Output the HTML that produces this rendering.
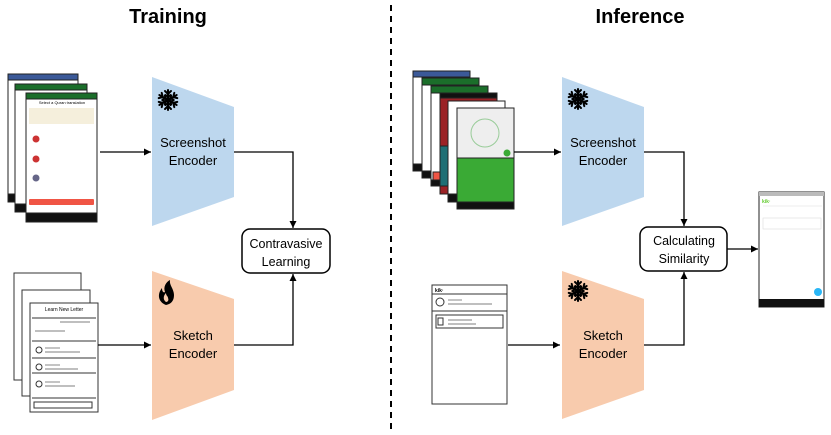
<!DOCTYPE html>
<html><head><meta charset="utf-8"><style>
html,body{margin:0;padding:0;background:#fff;}
svg{display:block;font-family:"Liberation Sans",sans-serif;}
</style></head><body>
<svg width="831" height="435" viewBox="0 0 831 435" xmlns="http://www.w3.org/2000/svg">
<defs>
<marker id="ar" markerWidth="8" markerHeight="8" refX="7" refY="4" orient="auto" markerUnits="userSpaceOnUse"><path d="M0,0.5 L7,4 L0,7.5 z" fill="#000"/></marker>
<g id="flake" stroke="#000" stroke-width="2" stroke-linecap="round" fill="none">
<g id="arm"><line x1="0" y1="0" x2="0" y2="-10"/><polyline points="-3,-9 0,-6 3,-9"/><polyline points="-2.5,-5 0,-3 2.5,-5"/></g>
<use href="#arm" transform="rotate(60)"/><use href="#arm" transform="rotate(120)"/><use href="#arm" transform="rotate(180)"/><use href="#arm" transform="rotate(240)"/><use href="#arm" transform="rotate(300)"/>
<circle cx="0" cy="0" r="2" fill="#000"/>
</g>
</defs>
<text x="168" y="23" font-size="20" font-weight="bold" text-anchor="middle">Training</text>
<text x="640" y="23" font-size="20" font-weight="bold" text-anchor="middle">Inference</text>
<line x1="391" y1="5" x2="391" y2="432" stroke="#000" stroke-width="2" stroke-dasharray="6,5"/>

<g stroke="#222" stroke-width="1">
<rect x="8" y="74" width="70" height="128" fill="#fff"/><rect x="8" y="74" width="70" height="6" fill="#3b5998"/><rect x="8" y="194" width="70" height="8" fill="#111"/>
<rect x="15" y="84" width="72" height="128" fill="#fff"/><rect x="15" y="84" width="72" height="6" fill="#1b6e2a"/><rect x="15" y="204" width="72" height="8" fill="#111"/>
<rect x="26" y="93" width="71" height="129" fill="#fff"/><rect x="26" y="93" width="71" height="6" fill="#1b6e2a"/><rect x="26" y="213" width="71" height="9" fill="#111"/>
</g>
<rect x="29" y="108" width="65" height="16" fill="#f5efdc"/>
<circle cx="36" cy="139" r="3.5" fill="#c33"/><circle cx="36" cy="159" r="3.5" fill="#c33"/><circle cx="36" cy="178" r="3.5" fill="#668"/>
<rect x="29" y="199" width="65" height="6" fill="#f05545" rx="1"/>
<text x="62" y="104" font-size="4" text-anchor="middle">Select a Quran translation</text>

<g stroke="#333" stroke-width="1" fill="#fff">
<rect x="14" y="273" width="67" height="107"/>
<rect x="22" y="290" width="68" height="106"/>
<rect x="30" y="303" width="68" height="109"/>
<line x1="32" y1="318" x2="96" y2="318"/><line x1="32" y1="341" x2="96" y2="341"/><line x1="32" y1="358" x2="96" y2="358"/><line x1="32" y1="373" x2="96" y2="373"/><line x1="32" y1="398" x2="96" y2="398"/>
<rect x="34" y="402" width="58" height="6"/>
<circle cx="39" cy="350" r="3"/><circle cx="39" cy="367" r="3"/><circle cx="39" cy="384" r="3"/>
</g>
<g stroke="#555" stroke-width="0.7"><line x1="45" y1="348" x2="60" y2="348"/><line x1="45" y1="352" x2="80" y2="352"/><line x1="45" y1="365" x2="60" y2="365"/><line x1="45" y1="369" x2="78" y2="369"/><line x1="45" y1="382" x2="60" y2="382"/><line x1="45" y1="386" x2="75" y2="386"/><line x1="60" y1="322" x2="90" y2="322"/><line x1="35" y1="331" x2="65" y2="331"/></g>
<text x="64" y="311" font-size="5" text-anchor="middle">Learn New Letter</text>

<polygon points="152,77 234,107 234,197 152,226" fill="#bdd7ee"/>
<polygon points="152,271 234,299 234,390 152,420" fill="#f8cbad"/>
<text x="193" y="147" font-size="13" text-anchor="middle">Screenshot</text>
<text x="193" y="165" font-size="13" text-anchor="middle">Encoder</text>
<text x="193" y="340" font-size="13" text-anchor="middle">Sketch</text>
<text x="193" y="358" font-size="13" text-anchor="middle">Encoder</text>
<use href="#flake" x="168" y="100"/>
<path d="M166,305 C158,302 157,294 162,288 C162,292 164,293 165,292 C163,287 166,282 170,280 C169,285 174,289 174,295 C174,301 171,304 166,305 Z" fill="#000"/>
<path d="M166,302 C163,300 163,296 166,293 C166,296 168,296 168,298 C169,300 168,302 166,302 Z" fill="#f8cbad"/>

<rect x="242" y="229" width="88" height="44" rx="8" fill="#fff" stroke="#000" stroke-width="1.5"/>
<text x="286" y="248" font-size="12.5" text-anchor="middle">Contravasive</text>
<text x="286" y="266" font-size="12.5" text-anchor="middle">Learning</text>

<g stroke="#000" stroke-width="1.3" fill="none">
<line x1="100" y1="152" x2="151" y2="152" marker-end="url(#ar)"/>
<polyline points="234,152 293,152 293,228" marker-end="url(#ar)"/>
<line x1="98" y1="345" x2="151" y2="345" marker-end="url(#ar)"/>
<polyline points="234,345 293,345 293,274" marker-end="url(#ar)"/>
</g>

<g stroke="#222" stroke-width="1">
<rect x="413" y="71" width="57" height="100" fill="#fff"/><rect x="413" y="71" width="57" height="6" fill="#3b5998"/>
<rect x="422" y="78" width="57" height="100" fill="#fff"/><rect x="422" y="78" width="57" height="7" fill="#1b6e2a"/>
<rect x="431" y="86" width="57" height="100" fill="#fff"/><rect x="431" y="86" width="57" height="7" fill="#1b6e2a"/><rect x="433" y="172" width="10" height="8" fill="#f05545"/>
<rect x="440" y="93" width="57" height="101" fill="#9b2226"/><rect x="440" y="93" width="57" height="5" fill="#111"/><rect x="440" y="146" width="10" height="40" fill="#1f6f75"/>
<rect x="448" y="101" width="57" height="101" fill="#fff"/>
<rect x="457" y="108" width="57" height="101" fill="#eee"/>
<rect x="457" y="158" width="57" height="44" fill="#3aaa35"/>
<rect x="457" y="202" width="57" height="7" fill="#111"/>
<rect x="448" y="194" width="9" height="8" fill="#111"/>
<rect x="431" y="180" width="9" height="6" fill="#111"/><rect x="422" y="171" width="9" height="7" fill="#111"/><rect x="413" y="164" width="9" height="7" fill="#111"/>
</g>
<circle cx="485" cy="133" r="14" fill="none" stroke="#9c9" stroke-width="1"/>
<circle cx="507" cy="153" r="3.5" fill="#3aaa35"/>

<g stroke="#333" stroke-width="1" fill="#fff">
<rect x="432" y="285" width="75" height="119"/>
<line x1="432" y1="294" x2="507" y2="294"/><line x1="432" y1="311" x2="507" y2="311"/>
<rect x="436" y="315" width="67" height="13"/>
<circle cx="440" cy="302" r="4"/>
<rect x="438" y="318" width="5" height="7"/>
</g>
<text x="435" y="292" font-size="5" font-weight="bold">kik·</text>
<g stroke="#555" stroke-width="0.7"><line x1="448" y1="300" x2="462" y2="300"/><line x1="448" y1="304" x2="492" y2="304"/><line x1="448" y1="320" x2="472" y2="320"/><line x1="448" y1="324" x2="476" y2="324"/></g>

<polygon points="562,77 644,107 644,197 562,226" fill="#bdd7ee"/>
<polygon points="562,271 644,299 644,390 562,419" fill="#f8cbad"/>
<text x="603" y="147" font-size="13" text-anchor="middle">Screenshot</text>
<text x="603" y="165" font-size="13" text-anchor="middle">Encoder</text>
<text x="603" y="340" font-size="13" text-anchor="middle">Sketch</text>
<text x="603" y="358" font-size="13" text-anchor="middle">Encoder</text>
<use href="#flake" x="578" y="99"/>
<use href="#flake" x="578" y="291"/>

<rect x="640" y="227" width="87" height="44" rx="8" fill="#fff" stroke="#000" stroke-width="1.5"/>
<text x="684" y="245" font-size="12.5" text-anchor="middle">Calculating</text>
<text x="684" y="263" font-size="12.5" text-anchor="middle">Similarity</text>

<g stroke="#000" stroke-width="1.3" fill="none">
<line x1="514" y1="152" x2="561" y2="152" marker-end="url(#ar)"/>
<polyline points="644,152 684,152 684,226" marker-end="url(#ar)"/>
<line x1="508" y1="345" x2="560" y2="345" marker-end="url(#ar)"/>
<polyline points="644,345 684,345 684,272" marker-end="url(#ar)"/>
<line x1="727" y1="249" x2="758" y2="249" marker-end="url(#ar)"/>
</g>

<rect x="759" y="192" width="65" height="115" fill="#fff" stroke="#222" stroke-width="1"/>
<rect x="759" y="192" width="65" height="4" fill="#bbb"/>
<rect x="759" y="299" width="65" height="8" fill="#111"/>
<text x="762" y="203" font-size="5" font-weight="bold" fill="#6c3">kik·</text>
<line x1="763" y1="206" x2="822" y2="206" stroke="#ddd" stroke-width="0.6"/>
<rect x="763" y="218" width="58" height="11" fill="none" stroke="#ddd" stroke-width="0.6"/>
<circle cx="818" cy="292" r="4" fill="#29b6f6"/>
</svg>
</body></html>
